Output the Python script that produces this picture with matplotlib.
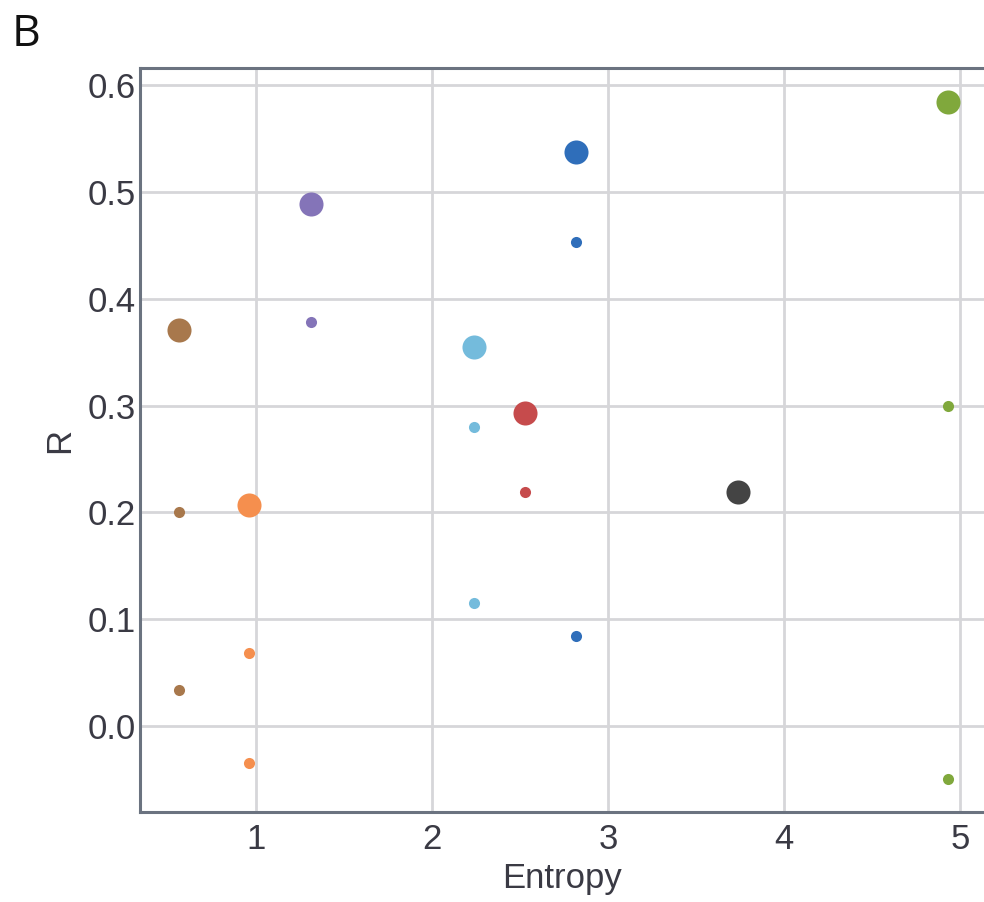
import numpy as np
import matplotlib.pyplot as plt

plt.rcParams['font.family'] = ['Liberation Sans', 'DejaVu Sans']

# one entropy value per group, big point = overall R, small points = other R values
entropy = [0.56, 0.96, 1.31, 2.24, 2.53, 2.82, 3.74, 4.93]
r_big = [0.371, 0.207, 0.489, 0.355, 0.293, 0.537, 0.219, 0.584]
r_small = [[0.200, 0.034], [0.068, -0.035], [0.378], [0.280, 0.115],
           [0.219], [0.453, 0.084], [], [0.300, -0.050]]
colors = ["#A8784C", "#F58F4E", "#8474B8", "#74BBDC", "#C64B4C",
          "#2F6EBA", "#444444", "#80A83C"]

fig = plt.figure(figsize=(9.84, 9.02), dpi=100)
ax = fig.add_axes([0.1423, 0.0998, 0.8577, 0.8248])

for x, yb, ys, c in zip(entropy, r_big, r_small, colors):
    ax.scatter([x], [yb], s=300, color=c, zorder=3, linewidths=0)
    if ys:
        ax.scatter([x] * len(ys), ys, s=64, color=c, zorder=3, linewidths=0)

ax.set_xlim(0.341, 5.136)
ax.set_ylim(-0.0805, 0.616)
ax.set_xticks([1, 2, 3, 4, 5])
ax.set_yticks([0.0, 0.1, 0.2, 0.3, 0.4, 0.5, 0.6])
ax.set_yticklabels(["0.0", "0.1", "0.2", "0.3", "0.4", "0.5", "0.6"])

ax.grid(True, color="#d6d6d9", linewidth=2)
ax.set_axisbelow(True)
ax.tick_params(length=0, labelsize=25, labelcolor="#3a3a44")
ax.tick_params(axis="x", pad=8)
ax.tick_params(axis="y", pad=3)
for side in ["left", "bottom", "top"]:
    ax.spines[side].set_color("#6b7380")
    ax.spines[side].set_linewidth(2.2)
ax.spines["right"].set_visible(False)

ax.set_xlabel("Entropy", fontsize=25, color="#3a3a44", labelpad=4)
ax.set_ylabel("R", fontsize=25, color="#3a3a44", labelpad=8)

fig.text(0.012, 0.961, "B", fontsize=32, color="#111111", va="center", ha="left",
         family=["Open Sans", "DejaVu Sans"])

plt.savefig("out.png", dpi=100)
